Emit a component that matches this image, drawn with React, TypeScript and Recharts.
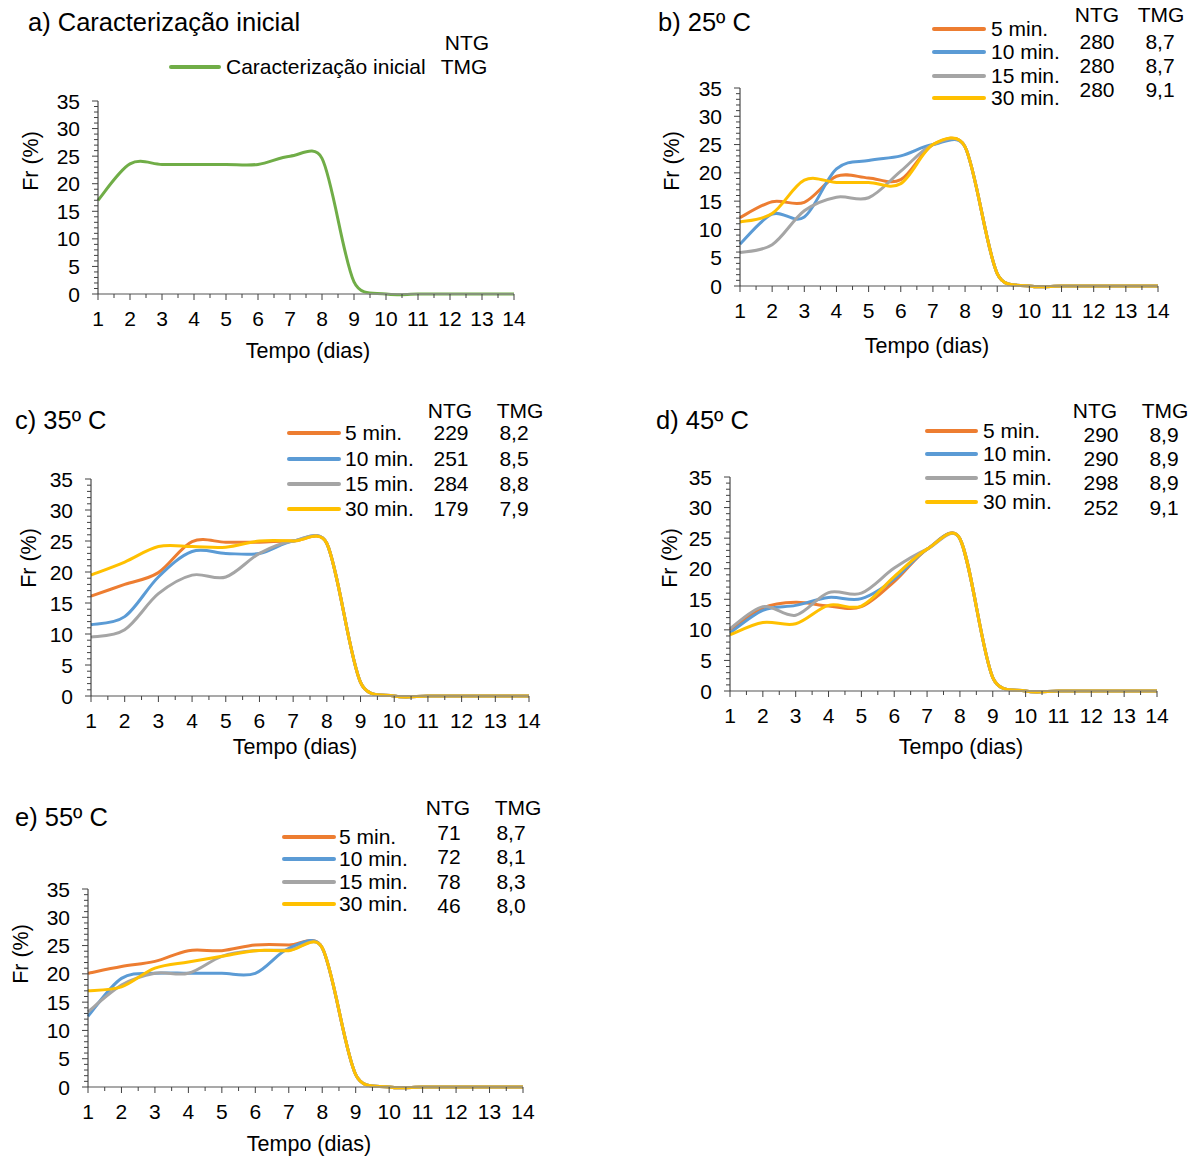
import React from 'react';
import { LineChart, Line, XAxis, YAxis } from 'recharts';

const days = [1, 2, 3, 4, 5, 6, 7, 8, 9, 10, 11, 12, 13, 14];
const yTicks = Array.from({ length: 36 }, (_, i) => i);
const xTicks = days.flatMap((d) => (d < 14 ? [d, d + 0.5] : [d]));

// a) caracterização inicial
const inicial = [17, 23.6, 23.5, 23.5, 23.5, 23.5, 25, 24.6, 2.2, 0, 0, 0, 0, 0];

// b) 25º C
const b5 = [12.1, 14.9, 14.8, 19.4, 19.1, 18.8, 25, 24.6, 2.2, 0, 0, 0, 0, 0];
const b10 = [7.4, 12.7, 12.2, 20.7, 22.2, 23.0, 25, 24.6, 2.2, 0, 0, 0, 0, 0];
const b15 = [5.9, 7.3, 13.3, 15.7, 15.6, 20.3, 25, 24.6, 2.2, 0, 0, 0, 0, 0];
const b30 = [11.3, 12.8, 18.7, 18.3, 18.3, 18.1, 25, 24.6, 2.2, 0, 0, 0, 0, 0];

// c) 35º C
const c5 = [16.1, 18.0, 19.9, 24.9, 24.8, 24.8, 25, 24.6, 2.2, 0, 0, 0, 0, 0];
const c10 = [11.5, 12.8, 19.2, 23.3, 23.0, 23.0, 25, 24.6, 2.2, 0, 0, 0, 0, 0];
const c15 = [9.5, 10.7, 16.5, 19.5, 19.2, 23.0, 25, 24.6, 2.2, 0, 0, 0, 0, 0];
const c30 = [19.5, 21.6, 24.1, 24.1, 24.0, 25.0, 25, 24.6, 2.2, 0, 0, 0, 0, 0];

// d) 45º C
const d5 = [10, 13.6, 14.5, 13.9, 13.8, 17.9, 23.2, 24.9, 2.2, 0, 0, 0, 0, 0];
const d10 = [9.5, 13.2, 14.0, 15.3, 15.1, 18.3, 23.2, 24.9, 2.2, 0, 0, 0, 0, 0];
const d15 = [10.2, 13.8, 12.4, 16.1, 16.0, 20.1, 23.2, 24.9, 2.2, 0, 0, 0, 0, 0];
const d30 = [9.2, 11.2, 11.0, 14.0, 13.9, 18.7, 23.2, 24.9, 2.2, 0, 0, 0, 0, 0];

// e) 55º C
const e5 = [20.1, 21.3, 22.2, 24.1, 24.1, 25.1, 25.1, 24.6, 2.2, 0, 0, 0, 0, 0];
const e10 = [12.5, 19.2, 20.1, 20.1, 20.1, 20.1, 24.5, 24.6, 2.2, 0, 0, 0, 0, 0];
const e15 = [13.3, 18.0, 20.1, 20.1, 23.1, 24.1, 24.2, 24.6, 2.2, 0, 0, 0, 0, 0];
const e30 = [17.0, 17.7, 21.0, 22.1, 23.1, 24.1, 24.1, 24.6, 2.2, 0, 0, 0, 0, 0];

const minutes = ['5 min.', '10 min.', '15 min.', '30 min.'];
const colors = ['#ED7D31', '#5B9BD5', '#A5A5A5', '#FFC000'];
const green = '#70AD47';

const ntgB = ['280', '280', '280'];
const tmgB = ['8,7', '8,7', '9,1'];
const ntgC = ['229', '251', '284', '179'];
const tmgC = ['8,2', '8,5', '8,8', '7,9'];
const ntgD = ['290', '290', '298', '252'];
const tmgD = ['8,9', '8,9', '8,9', '9,1'];
const ntgE = ['71', '72', '78', '46'];
const tmgE = ['8,7', '8,1', '8,3', '8,0'];

const font = '"Liberation Sans", Arial, sans-serif';
const TXT = 21;

// Excel-style smoothed line: Bezier with 1/6 control points,
// clamped to half the segment length
const excelSmooth: any = (context: any) => {
  let px: number[] = [];
  let py: number[] = [];
  const dist = (i: number, j: number) => Math.hypot(px[j] - px[i], py[j] - py[i]);
  return {
    areaStart() {},
    areaEnd() {},
    lineStart() {
      px = [];
      py = [];
    },
    point(x: number, y: number) {
      px.push(+x);
      py.push(+y);
    },
    lineEnd() {
      const n = px.length;
      if (!n) return;
      context.moveTo(px[0], py[0]);
      for (let i = 0; i < n - 1; i++) {
        const a = Math.max(i - 1, 0);
        const b = i + 1;
        const c = Math.min(i + 2, n - 1);
        const d02 = dist(a, b);
        const d12 = dist(i, b);
        const d13 = dist(i, c);
        const f1 = d02 / 6 < d12 / 2 ? 1 / 6 : d12 / 2 / d02;
        const f2 = d13 / 6 < d12 / 2 ? 1 / 6 : d12 / 2 / d13;
        context.bezierCurveTo(
          px[i] + (px[b] - px[a]) * f1,
          py[i] + (py[b] - py[a]) * f1,
          px[b] - (px[c] - px[i]) * f2,
          py[b] - (py[c] - py[i]) * f2,
          px[b],
          py[b]
        );
      }
    },
  };
};

const YTick = ({ x, y, payload }: any) => {
  const major = payload.value % 5 === 0;
  return (
    <g>
      <line x1={x} x2={x - (major ? 6 : 4)} y1={y} y2={y} stroke="#404040" strokeWidth={1} />
      {major && (
        <text x={x - 18} y={y} dy="0.36em" textAnchor="end" fontSize={TXT} fontFamily={font} fill="#000">
          {payload.value}
        </text>
      )}
    </g>
  );
};

const XTick = ({ x, y, payload }: any) => {
  const major = Number.isInteger(payload.value);
  return (
    <g>
      <line x1={x} x2={x} y1={y} y2={y + (major ? 6 : 4)} stroke="#404040" strokeWidth={1} />
      {major && (
        <text x={x} y={y + 24} dy="0.36em" textAnchor="middle" fontSize={TXT} fontFamily={font} fill="#000">
          {payload.value}
        </text>
      )}
    </g>
  );
};

type Series = { name: string; color: string; values: number[] };

const Panel = ({ box, series }: { box: number[]; series: Series[] }) => {
  const [x0, y0, x1, y1] = box;
  const data = days.map((d, i) => {
    const row: any = { day: d };
    series.forEach((s, k) => (row['s' + k] = s.values[i]));
    return row;
  });
  return (
    <div style={{ position: 'absolute', left: x0 - 60, top: y0 - 10 }}>
      <LineChart
        width={x1 - x0 + 80}
        height={y1 - y0 + 50}
        data={data}
        margin={{ top: 10, right: 20, bottom: 0, left: 0 }}
      >
        <XAxis
          dataKey="day"
          type="number"
          domain={[1, 14]}
          ticks={xTicks}
          interval={0}
          height={40}
          tickSize={0}
          tickMargin={0}
          tickLine={false}
          axisLine={{ stroke: '#8c8c8c', strokeWidth: 1.5 }}
          tick={<XTick />}
        />
        <YAxis
          type="number"
          domain={[0, 35]}
          ticks={yTicks}
          interval={0}
          width={60}
          tickSize={0}
          tickMargin={0}
          tickLine={false}
          axisLine={{ stroke: '#262626', strokeWidth: 1 }}
          tick={<YTick />}
        />
        {series.map((s, k) => (
          <Line
            key={s.name}
            dataKey={'s' + k}
            name={s.name}
            stroke={s.color}
            strokeWidth={3}
            dot={false}
            activeDot={false}
            type={excelSmooth}
            isAnimationActive={false}
          />
        ))}
      </LineChart>
    </div>
  );
};

// absolutely placed text, y is the vertical centre
const T = ({ x, y, size = TXT, align = 'left', children }: any) => (
  <div
    style={{
      position: 'absolute',
      left: x,
      top: y - size * 0.6,
      lineHeight: `${size * 1.2}px`,
      fontSize: size,
      fontFamily: font,
      color: '#000',
      whiteSpace: 'nowrap',
      transform: align === 'center' ? 'translateX(-50%)' : undefined,
    }}
  >
    {children}
  </div>
);

const Swatch = ({ x1, x2, y, color }: any) => (
  <div
    style={{
      position: 'absolute',
      left: x1,
      top: y - 2,
      width: x2 - x1,
      height: 4,
      background: color,
      borderRadius: 2,
    }}
  />
);

const YTitle = ({ x, y }: any) => (
  <div
    style={{
      position: 'absolute',
      left: x,
      top: y,
      fontSize: 21.5,
      fontFamily: font,
      whiteSpace: 'nowrap',
      transform: 'translate(-50%, -50%) rotate(-90deg)',
    }}
  >
    Fr (%)
  </div>
);

const mk = (vals: number[][]): Series[] =>
  vals.map((v, i) => ({ name: minutes[i], color: colors[i], values: v }));

const Legend = ({ sx, tx, rows, ntgX, tmgX, hy, vRows, ntg, tmg }: any) => (
  <>
    {rows.map((y: number, i: number) => (
      <React.Fragment key={i}>
        <Swatch x1={sx[0]} x2={sx[1]} y={y} color={colors[i]} />
        <T x={tx} y={y}>{minutes[i]}</T>
      </React.Fragment>
    ))}
    <T x={ntgX[0]} y={hy} align="center">NTG</T>
    <T x={tmgX[0]} y={hy} align="center">TMG</T>
    {ntg.map((v: string, i: number) => (
      <T key={'n' + i} x={ntgX[1]} y={vRows[i]} align="center">{v}</T>
    ))}
    {tmg.map((v: string, i: number) => (
      <T key={'t' + i} x={tmgX[1]} y={vRows[i]} align="center">{v}</T>
    ))}
  </>
);

export default function App() {
  return (
    <div style={{ position: 'absolute', left: 0, top: 0, width: 1196, height: 1156, background: '#fff' }}>
      {/* a */}
      <Panel box={[98, 101, 514, 294]} series={[{ name: 'Caracterização inicial', color: green, values: inicial }]} />
      <T x={28} y={22} size={25.5}>a) Caracterização inicial</T>
      <Swatch x1={169} x2={221} y={67} color={green} />
      <T x={226} y={67}>Caracterização inicial</T>
      <T x={467} y={43} align="center">NTG</T>
      <T x={464} y={67} align="center">TMG</T>
      <YTitle x={31} y={161} />
      <T x={308} y={352} size={21.5} align="center">Tempo (dias)</T>

      {/* b */}
      <Panel box={[740, 88, 1158, 286]} series={mk([b5, b10, b15, b30])} />
      <T x={658} y={22} size={25.5}>b) 25º C</T>
      <Legend
        sx={[932, 986]}
        tx={991}
        rows={[29, 52, 76, 98]}
        ntgX={[1097, 1097]}
        tmgX={[1161, 1160]}
        hy={15}
        vRows={[42, 66, 90]}
        ntg={ntgB}
        tmg={tmgB}
      />
      <YTitle x={672} y={161} />
      <T x={927} y={347} size={21.5} align="center">Tempo (dias)</T>

      {/* c */}
      <Panel box={[91, 479, 529, 696]} series={mk([c5, c10, c15, c30])} />
      <T x={15} y={420} size={25.5}>c) 35º C</T>
      <Legend
        sx={[287, 341]}
        tx={345}
        rows={[433, 459, 484, 509]}
        ntgX={[450, 451]}
        tmgX={[520, 514]}
        hy={411}
        vRows={[433, 459, 484, 509]}
        ntg={ntgC}
        tmg={tmgC}
      />
      <YTitle x={29} y={558} />
      <T x={295} y={748} size={21.5} align="center">Tempo (dias)</T>

      {/* d */}
      <Panel box={[730, 477, 1157, 691]} series={mk([d5, d10, d15, d30])} />
      <T x={656} y={420} size={25.5}>d) 45º C</T>
      <Legend
        sx={[925, 978]}
        tx={983}
        rows={[431, 454, 478, 502]}
        ntgX={[1095, 1101]}
        tmgX={[1165, 1164]}
        hy={411}
        vRows={[435, 459, 483, 508]}
        ntg={ntgD}
        tmg={tmgD}
      />
      <YTitle x={670} y={558} />
      <T x={961} y={748} size={21.5} align="center">Tempo (dias)</T>

      {/* e */}
      <Panel box={[88, 889, 523, 1087]} series={mk([e5, e10, e15, e30])} />
      <T x={15} y={817} size={25.5}>e) 55º C</T>
      <Legend
        sx={[282, 336]}
        tx={339}
        rows={[837, 859, 882, 904]}
        ntgX={[448, 449]}
        tmgX={[518, 511]}
        hy={808}
        vRows={[833, 857, 882, 906]}
        ntg={ntgE}
        tmg={tmgE}
      />
      <YTitle x={21} y={954} />
      <T x={309} y={1145} size={21.5} align="center">Tempo (dias)</T>
    </div>
  );
}
